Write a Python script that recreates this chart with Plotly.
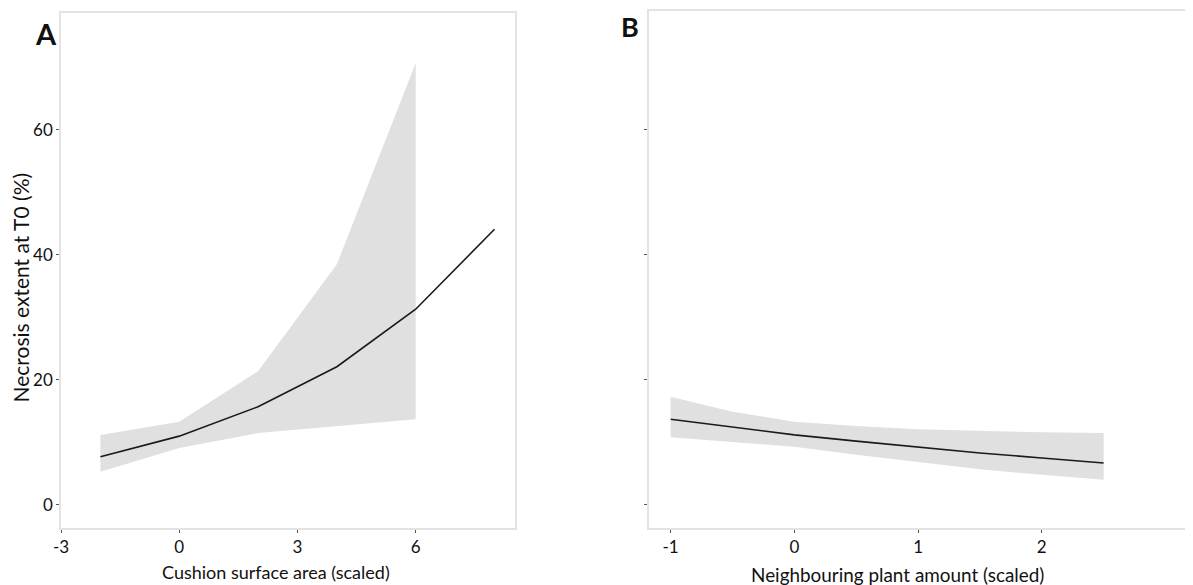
import plotly.graph_objects as go

# -----------------------------------
# Data
# -----------------------------------
# Panel A: cushion surface area
cushion_x = [-2, 0, 2, 4, 6, 8]
cushion_fit = [7.7, 11.0, 15.7, 22.1, 31.3, 44.1]
cushion_ci_x = [-2, 0, 2, 4, 6]
cushion_lower = [5.3, 9.1, 11.5, 12.6, 13.7]
cushion_upper = [11.2, 13.3, 21.4, 38.5, 70.7]

# Panel B: neighbouring plant amount
neigh_x = [-1, -0.5, 0, 0.5, 1, 1.5, 2, 2.5]
neigh_fit = [13.7, 12.4, 11.2, 10.2, 9.2, 8.3, 7.5, 6.7]
neigh_lower = [10.8, 10.1, 9.3, 8.0, 6.8, 5.7, 4.8, 4.0]
neigh_upper = [17.3, 14.9, 13.3, 12.6, 12.1, 11.8, 11.6, 11.5]

y_ticks = [0, 20, 40, 60]
x_ticks_a = [-3, 0, 3, 6]
x_ticks_b = [-1, 0, 1, 2]

RIBBON = "#e0e0e0"
LINE = "#1a1a1a"
FRAME = "#e3e3e3"
FONT = "Lato, 'Open Sans', sans-serif"

W, H = 1193, 585
OFF = 8  # page body margin, positions below are page pixels minus this

fig = go.Figure()


# -----------------------------------
# Ribbon + fitted line helper
# -----------------------------------
def add_panel(xs, lo, hi, lx, ly, xa, ya):
    fig.add_trace(go.Scatter(x=xs, y=lo, mode="lines", line=dict(width=0),
                             hoverinfo="skip", showlegend=False,
                             xaxis=xa, yaxis=ya))
    fig.add_trace(go.Scatter(x=xs, y=hi, mode="lines", line=dict(width=0),
                             fill="tonexty", fillcolor=RIBBON,
                             hoverinfo="skip", showlegend=False,
                             xaxis=xa, yaxis=ya))
    fig.add_trace(go.Scatter(x=lx, y=ly, mode="lines",
                             line=dict(color=LINE, width=1.6),
                             showlegend=False, xaxis=xa, yaxis=ya))


add_panel(cushion_ci_x, cushion_lower, cushion_upper,
          cushion_x, cushion_fit, "x", "y")
add_panel(neigh_x, neigh_lower, neigh_upper,
          neigh_x, neigh_fit, "x2", "y2")

axis_common = dict(
    showgrid=False, zeroline=False, automargin=False,
    showline=True, linecolor=FRAME, linewidth=1.5, mirror=True,
    ticks="outside", ticklen=3, tickwidth=1, tickcolor="#555555",
    tickfont=dict(family=FONT, size=17, color="#111111"),
)


def px_x(p):
    return (p - OFF) / W


def px_y(p):
    return 1 - (p - OFF) / H


fig.update_layout(
    width=W, height=H,
    margin=dict(l=0, r=0, t=0, b=0),
    plot_bgcolor="white", paper_bgcolor="white",
    font=dict(family=FONT, color="#111111"),
    xaxis=dict(domain=[px_x(61), px_x(515)], range=[-3, 8.52],
               tickvals=x_ticks_a, ticktext=[str(v) for v in x_ticks_a],
               **axis_common),
    yaxis=dict(domain=[px_y(528), px_y(13)], range=[-3.7, 78.7],
               tickvals=y_ticks, **axis_common),
    xaxis2=dict(domain=[px_x(649), 1.0], range=[-1.175, 3.287],
                tickvals=x_ticks_b, ticktext=[str(v) for v in x_ticks_b],
                anchor="y2", **axis_common),
    yaxis2=dict(domain=[px_y(528), px_y(11)], range=[-3.7, 79.0],
                tickvals=y_ticks, showticklabels=False, anchor="x2",
                **axis_common),
)


# -----------------------------------
# Axis titles and panel letters
# -----------------------------------
def label(text, x, y, size, angle=0):
    fig.add_annotation(text=text, x=px_x(x), y=px_y(y),
                       xref="paper", yref="paper", showarrow=False,
                       xanchor="center", yanchor="middle", textangle=angle,
                       font=dict(family=FONT, size=size, color="#111111"))


label("Cushion surface area (scaled)", 276, 572, 18)
label("Neighbouring plant amount (scaled)", 897, 574, 18.9)
label("Necrosis extent at T0 (%)", 19.5, 288, 21, angle=-90)
label("<b>A</b>", 46, 34, 29)
label("<b>B</b>", 630, 27, 27)

fig.write_html("out.html")
